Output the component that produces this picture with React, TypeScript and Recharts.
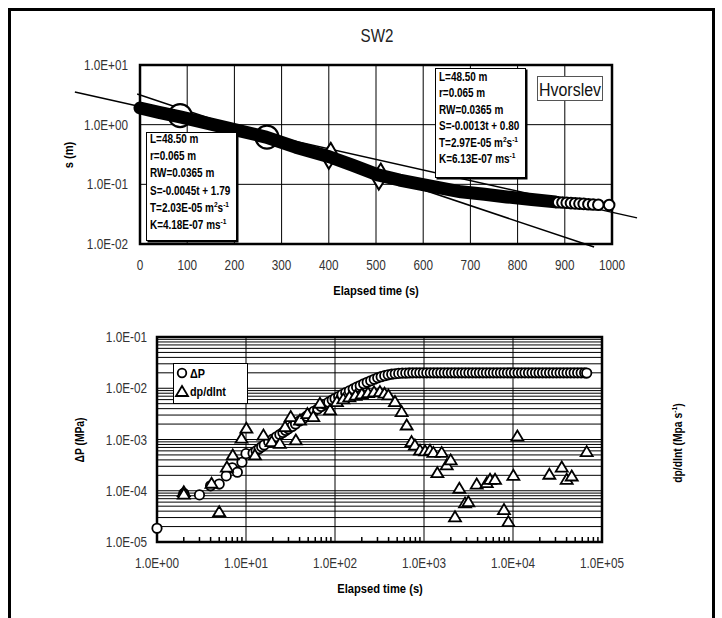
import React from "react";
import {
  ScatterChart,
  Scatter,
  XAxis,
  YAxis,
  CartesianGrid,
  ReferenceLine,
  ReferenceArea,
} from "recharts";

// no narrow font is installed, so Liberation Sans is squeezed horizontally
const FONT = "'Liberation Sans', Arial, sans-serif";
const SQUEEZE = 0.84;

// ---------- top chart: recovery s (m) vs elapsed time ----------
const recoveryTicksX = [0, 100, 200, 300, 400, 500, 600, 700, 800, 900, 1000];
const recoveryTicksY = [0.01, 0.1, 1, 10];

// dense band of overlapping markers (read along its centre)
const bandTime = [0, 40, 85, 180, 267, 330, 401, 450, 504, 550, 602, 680, 730, 777, 830, 880];
const bandS = [1.9, 1.61, 1.35, 0.9, 0.62, 0.42, 0.29, 0.21, 0.144, 0.118, 0.098, 0.075, 0.068, 0.0615, 0.0556, 0.0508];

// last, separately visible markers
const tailTime = [886, 895, 904, 913, 922, 931, 940, 950, 960, 971, 994];
const tailS = [0.05, 0.0495, 0.049, 0.0485, 0.048, 0.0475, 0.047, 0.0465, 0.046, 0.0455, 0.045];

const fitMarkCircles = [
  { t: 85, s: 1.42 },
  { t: 269, s: 0.62 },
];
const fitMarkDiamonds = [
  { t: 402, s: 0.3 },
  { t: 508, s: 0.135 },
];

const fitLineA = [
  { x: -138, y: 3.53 },
  { x: 1053, y: 0.0274 },
];
const fitLineB = [
  { x: -6, y: 3.27 },
  { x: 962, y: 0.0089 },
];

// ---------- bottom chart: log-log pressure ----------
const decadesX = [1, 10, 100, 1000, 10000, 100000];
const ticksX = [
  1, 2, 3, 4, 5, 6, 7, 8, 9,
  10, 20, 30, 40, 50, 60, 70, 80, 90,
  100, 200, 300, 400, 500, 600, 700, 800, 900,
  1000, 2000, 3000, 4000, 5000, 6000, 7000, 8000, 9000,
  10000, 20000, 30000, 40000, 50000, 60000, 70000, 80000, 90000, 100000,
];
const decadesY = [1e-5, 1e-4, 1e-3, 1e-2, 1e-1];
const gridY = [
  1e-5, 2e-5, 3e-5, 4e-5, 5e-5, 6e-5, 7e-5, 8e-5, 9e-5,
  1e-4, 2e-4, 3e-4, 4e-4, 5e-4, 6e-4, 7e-4, 8e-4, 9e-4,
  1e-3, 2e-3, 3e-3, 4e-3, 5e-3, 6e-3, 7e-3, 8e-3, 9e-3,
  1e-2, 2e-2, 3e-2, 4e-2, 5e-2, 6e-2, 7e-2, 8e-2, 9e-2, 1e-1,
];

const dpTime = [
  1, 2, 3, 4, 5, 6, 7, 8, 9, 10,
  12, 13, 14, 15, 16, 18, 20, 22, 24, 26,
  28, 30, 33, 36, 40, 44, 48, 53, 58, 64,
  70, 77, 85, 93, 100, 110, 120, 132, 145, 160,
  175, 192, 210, 230, 252, 276, 302, 330, 362, 396,
  434, 475, 520, 570, 624, 683, 748, 819, 897, 982,
  1075, 1177, 1289, 1411, 1545, 1692, 1853, 2029, 2222, 2433,
  2664, 2917, 3194, 3498, 3830, 4194, 4592, 5028, 5506, 6029,
  6602, 7229, 7916, 8668, 9491, 10393, 11380, 12461, 13645, 14941,
  16360, 17914, 19616, 21479, 23520, 25754, 28200, 30879, 33813, 37025,
  40542, 44393, 48610, 53228, 58285, 63822, 67300,
];
const dpValue = [
  1.85e-5, 8.9e-5, 8.3e-5, 1.25e-4, 1.35e-4, 1.95e-4, 2.8e-4, 2.3e-4, 3.6e-4, 5.3e-4,
  5.4e-4, 6.0e-4, 6.6e-4, 7.2e-4, 7.8e-4, 9.0e-4, 1.02e-3, 1.13e-3, 1.25e-3, 1.37e-3,
  1.5e-3, 1.62e-3, 1.8e-3, 2.0e-3, 2.3e-3, 2.55e-3, 2.85e-3, 3.2e-3, 3.55e-3, 3.95e-3,
  4.4e-3, 4.85e-3, 5.35e-3, 5.9e-3, 6.3e-3, 6.9e-3, 7.5e-3, 8.2e-3, 8.9e-3, 9.7e-3,
  1.05e-2, 1.13e-2, 1.22e-2, 1.31e-2, 1.4e-2, 1.5e-2, 1.6e-2, 1.68e-2, 1.76e-2, 1.83e-2,
  1.88e-2, 1.92e-2, 1.95e-2, 1.97e-2, 1.98e-2, 1.99e-2, 2.0e-2, 2.0e-2, 2.0e-2, 2.0e-2,
  2.0e-2, 2.0e-2, 2.0e-2, 2.0e-2, 2.0e-2, 2.0e-2, 2.0e-2, 2.0e-2, 2.0e-2, 2.0e-2,
  2.0e-2, 2.0e-2, 2.0e-2, 2.0e-2, 2.0e-2, 2.0e-2, 2.0e-2, 2.0e-2, 2.0e-2, 2.0e-2,
  2.0e-2, 2.0e-2, 2.0e-2, 2.0e-2, 2.0e-2, 2.0e-2, 2.0e-2, 2.0e-2, 2.0e-2, 2.0e-2,
  2.0e-2, 2.0e-2, 2.0e-2, 2.0e-2, 2.0e-2, 2.0e-2, 2.0e-2, 2.0e-2, 2.0e-2, 2.0e-2,
  2.0e-2, 2.0e-2, 2.0e-2, 2.0e-2, 2.0e-2, 2.0e-2, 1.98e-2,
];

const derivTime = [
  2, 2, 4.1, 5, 6.1, 7.1, 8.9, 10.1, 12.6, 15.7,
  19.4, 24, 27.5, 31.8, 36.3, 40.4, 49, 57, 67.7, 88,
  105, 124, 145, 170, 200, 235, 275, 320, 360, 398,
  472, 561, 639, 725, 790, 902, 1030, 1168, 1275, 1413,
  1580, 1800, 1995, 2230, 2495, 2890, 3150, 3910, 5070, 5520,
  6280, 7920, 8870, 10090, 11200, 25600, 35300, 40100, 45700, 67300,
];
const derivValue = [
  9.6e-5, 8.6e-5, 1.4e-4, 3.9e-5, 2.9e-4, 5.0e-4, 1.06e-3, 1.66e-3, 5.0e-4, 1.22e-3,
  9.1e-4, 8.4e-4, 1.78e-3, 2.8e-3, 9.8e-4, 2.4e-3, 3.2e-3, 2.8e-3, 5.1e-3, 3.8e-3,
  5.5e-3, 6.2e-3, 6.8e-3, 7.3e-3, 7.8e-3, 8.2e-3, 8.5e-3, 8.6e-3, 8.0e-3, 7.4e-3,
  5.5e-3, 3.5e-3, 1.92e-3, 9.1e-4, 7.8e-4, 6.2e-4, 6.0e-4, 6.2e-4, 5.6e-4, 2.25e-4,
  5.6e-4, 3.2e-4, 4.0e-4, 3.1e-5, 1.12e-4, 5.8e-5, 6.1e-5, 1.35e-4, 1.44e-4, 1.67e-4,
  1.67e-4, 4.3e-5, 2.5e-5, 2.0e-4, 1.17e-3, 2.1e-4, 2.9e-4, 1.67e-4, 1.94e-4, 5.8e-4,
];

const band = bandTime.map((t, i) => ({ t, s: bandS[i] }));
const tail = tailTime.map((t, i) => ({ t, s: tailS[i] }));
const dpData = dpTime.map((t, i) => ({ t, v: dpValue[i] }));
const derivData = derivTime.map((t, i) => ({ t, v: derivValue[i] }));

const fmtE = (v: number) => {
  const e = Math.round(Math.log10(v));
  return `1.0E${e < 0 ? "-" : "+"}${String(Math.abs(e)).padStart(2, "0")}`;
};

// squeezed svg text, anchored at (x, y)
const NText = ({ x, y, k = SQUEEZE, rotate = 0, children, ...rest }: any) => (
  <g transform={`translate(${x},${y}) rotate(${rotate}) scale(${k},1)`}>
    <text x={0} y={0} fontFamily={FONT} {...rest}>
      {children}
    </text>
  </g>
);

const TICK = { fontSize: 14, fill: "#333" };

const TopXTick = ({ x, y, payload }: any) => (
  <NText x={x} y={y + 26} textAnchor="middle" {...TICK}>
    {payload.value}
  </NText>
);
const LeftYTick = ({ x, y, payload }: any) => (
  <NText x={x} y={y + 5} textAnchor="end" {...TICK}>
    {fmtE(payload.value)}
  </NText>
);
const RightYTick = ({ x, y, payload }: any) => (
  <NText x={x} y={y + 5} textAnchor="start" {...TICK}>
    {fmtE(payload.value)}
  </NText>
);
const LogXTick = ({ x, y, payload }: any) => {
  const v = payload.value;
  const lg = Math.log10(v);
  if (Math.abs(lg - Math.round(lg)) < 1e-6) {
    return (
      <NText x={x} y={y + 26} textAnchor="middle" {...TICK}>
        {fmtE(v)}
      </NText>
    );
  }
  return <line x1={x} x2={x} y1={y} y2={y - 5} stroke="#000" strokeWidth={1.5} />;
};

const BigCircle = (p: any) => (
  <circle cx={p.cx} cy={p.cy} r={11.5} fill="#fff" stroke="#000" strokeWidth={2.2} />
);
const Diamond = (p: any) => (
  <polygon
    points={`${p.cx + 1},${p.cy - 13} ${p.cx + 8},${p.cy - 1} ${p.cx - 1},${p.cy + 13} ${p.cx - 8},${p.cy + 1}`}
    fill="#fff"
    stroke="#000"
    strokeWidth={2}
  />
);
const SmallCircle = (p: any) => (
  <circle cx={p.cx} cy={p.cy} r={4.7} fill="#fff" stroke="#000" strokeWidth={1.8} />
);
const TailCircle = (p: any) => (
  <circle cx={p.cx} cy={p.cy} r={5.3} fill="#fff" stroke="#000" strokeWidth={2} />
);
const Triangle = (p: any) => (
  <polygon
    points={`${p.cx},${p.cy - 5.5} ${p.cx + 6},${p.cy + 4.5} ${p.cx - 6},${p.cy + 4.5}`}
    fill="#fff"
    stroke="#000"
    strokeWidth={1.8}
  />
);
const Nothing = () => <g />;

const boxFrame = (left: number, top: number, width: number, height: number): React.CSSProperties => ({
  position: "absolute",
  left,
  top,
  width,
  height,
  boxSizing: "border-box",
  border: "1.5px solid #000",
  boxShadow: "1.5px 1.5px 0 #000",
  background: "#fff",
});

const ParamLines = ({ x, y, step, s }: any) => {
  const lines = [
    <>L=48.50 m</>,
    <>r=0.065 m</>,
    <>RW=0.0365 m</>,
    <>{s.eq}</>,
    <>
      T={s.T} m<tspan dy={-5} fontSize={8}>2</tspan>
      <tspan dy={5}>s</tspan>
      <tspan dy={-5} fontSize={8}>-1</tspan>
    </>,
    <>
      K={s.K} ms<tspan dy={-5} fontSize={8}>-1</tspan>
    </>,
  ];
  return (
    <>
      {lines.map((l, i) => (
        <NText key={i} x={x} y={y + i * step} k={0.83} fontSize={12} fontWeight={700} fill="#000">
          {l}
        </NText>
      ))}
    </>
  );
};

export default function App() {
  return (
    <div
      style={{
        position: "absolute",
        left: 0,
        top: 0,
        width: 722,
        height: 618,
        background: "#fff",
        overflow: "hidden",
      }}
    >
      <div
        style={{
          position: "absolute",
          left: 8,
          top: 8,
          width: 707,
          height: 700,
          boxSizing: "border-box",
          border: "3px solid #000",
        }}
      />

      <div style={{ position: "absolute", left: 0, top: 0 }}>
        <ScatterChart width={722} height={310} margin={{ top: 65, right: 110, bottom: 36, left: 80 }}>
          <CartesianGrid stroke="#000" strokeWidth={1} />
          <XAxis
            type="number"
            dataKey="t"
            domain={[0, 1000]}
            ticks={recoveryTicksX}
            interval={0}
            tickLine={false}
            axisLine={false}
            tickSize={0}
            tickMargin={0}
            height={30}
            tick={<TopXTick />}
          />
          <YAxis
            type="number"
            dataKey="s"
            scale="log"
            domain={[0.01, 10]}
            ticks={recoveryTicksY}
            interval={0}
            tickLine={false}
            axisLine={false}
            tickSize={0}
            tickMargin={12}
            width={60}
            tick={<LeftYTick />}
          />
          <ReferenceArea x1={0} x2={1000} y1={0.01} y2={10} fill="none" stroke="#000" strokeWidth={2.5} />
          <ReferenceLine segment={fitLineA} stroke="#000" strokeWidth={1.5} ifOverflow="visible" />
          <ReferenceLine segment={fitLineB} stroke="#000" strokeWidth={1.5} ifOverflow="visible" />
          <Scatter data={fitMarkCircles} shape={BigCircle} isAnimationActive={false} />
          <Scatter data={fitMarkDiamonds} shape={Diamond} isAnimationActive={false} />
          <Scatter
            data={band}
            fill="#000"
            line={{ stroke: "#000", strokeWidth: 13, strokeLinecap: "round", strokeLinejoin: "round" }}
            shape={Nothing}
            isAnimationActive={false}
          />
          <Scatter data={tail} shape={TailCircle} isAnimationActive={false} />
        </ScatterChart>
      </div>

      <div style={{ position: "absolute", left: 0, top: 310 }}>
        <ScatterChart width={722} height={308} margin={{ top: 27, right: 60, bottom: 46, left: 97 }}>
          <CartesianGrid
            yAxisId="left"
            stroke="#000"
            strokeWidth={1}
            horizontalValues={gridY}
            verticalValues={decadesX}
          />
          <XAxis
            type="number"
            dataKey="t"
            scale="log"
            domain={[1, 100000]}
            ticks={ticksX}
            interval={0}
            tickLine={false}
            axisLine={false}
            tickSize={0}
            tickMargin={0}
            height={30}
            tick={<LogXTick />}
          />
          <YAxis
            yAxisId="left"
            type="number"
            dataKey="v"
            scale="log"
            domain={[1e-5, 1e-1]}
            ticks={decadesY}
            interval={0}
            tickLine={false}
            axisLine={false}
            tickSize={0}
            tickMargin={10}
            width={60}
            tick={<LeftYTick />}
          />
          <YAxis
            yAxisId="right"
            orientation="right"
            type="number"
            scale="log"
            domain={[1e-5, 1e-1]}
            ticks={decadesY}
            interval={0}
            tickLine={false}
            axisLine={false}
            tickSize={0}
            tickMargin={11}
            width={60}
            tick={<RightYTick />}
          />
          <ReferenceArea
            yAxisId="left"
            x1={1}
            x2={100000}
            y1={1e-5}
            y2={1e-1}
            fill="none"
            stroke="#000"
            strokeWidth={2.5}
          />
          <Scatter yAxisId="left" data={dpData} shape={SmallCircle} isAnimationActive={false} />
          <Scatter yAxisId="left" data={derivData} shape={Triangle} isAnimationActive={false} />
        </ScatterChart>
      </div>

      {/* boxes on top of the plots */}
      <div style={boxFrame(146, 132, 91, 109)} />
      <div style={boxFrame(435, 68, 91, 110)} />
      <div
        style={{
          position: "absolute",
          left: 537,
          top: 76,
          width: 66,
          height: 25,
          boxSizing: "border-box",
          border: "1px solid #555",
          background: "#fff",
        }}
      />
      <div
        style={{
          position: "absolute",
          left: 173,
          top: 363,
          width: 75,
          height: 41,
          boxSizing: "border-box",
          border: "1px solid #000",
          background: "#fff",
        }}
      />

      {/* all free text */}
      <svg width={722} height={618} style={{ position: "absolute", left: 0, top: 0, pointerEvents: "none" }}>
        <NText x={377} y={42} k={0.82} textAnchor="middle" fontSize={18.5} fill="#222">
          SW2
        </NText>
        <NText x={570} y={96} textAnchor="middle" fontSize={19} fill="#111">
          Hvorslev
        </NText>
        <ParamLines x={150} y={143} step={17.2} s={{ eq: "S=-0.0045t + 1.79", T: "2.03E-05", K: "4.18E-07" }} />
        <ParamLines x={439} y={81} step={16.4} s={{ eq: "S=-0.0013t + 0.80", T: "2.97E-05", K: "6.13E-07" }} />

        <NText x={376} y={295} k={0.86} textAnchor="middle" fontSize={13} fontWeight={700}>
          Elapsed time (s)
        </NText>
        <NText x={73} y={155} rotate={-90} k={0.86} textAnchor="middle" fontSize={13} fontWeight={700}>
          s (m)
        </NText>
        <NText x={380} y={593} k={0.86} textAnchor="middle" fontSize={13} fontWeight={700}>
          Elapsed time (s)
        </NText>
        <NText x={84} y={440} rotate={-90} k={0.86} textAnchor="middle" fontSize={12} fontWeight={700}>
          ΔP (MPa)
        </NText>
        <NText x={682} y={443} rotate={-90} k={0.86} textAnchor="middle" fontSize={12} fontWeight={700}>
          dp/dlnt (Mpa s<tspan dy={-5} fontSize={8}>-1</tspan>
          <tspan dy={5}>)</tspan>
        </NText>

        {/* legend of the lower chart */}
        <circle cx={182} cy={373} r={4.3} fill="#fff" stroke="#000" strokeWidth={1.8} />
        <polygon points="182,386 188,396 176,396" fill="#fff" stroke="#000" strokeWidth={1.8} />
        <NText x={190} y={377.5} k={0.83} fontSize={13} fontWeight={700}>
          ΔP
        </NText>
        <NText x={190} y={395.5} k={0.83} fontSize={13} fontWeight={700}>
          dp/dlnt
        </NText>
      </svg>
    </div>
  );
}
